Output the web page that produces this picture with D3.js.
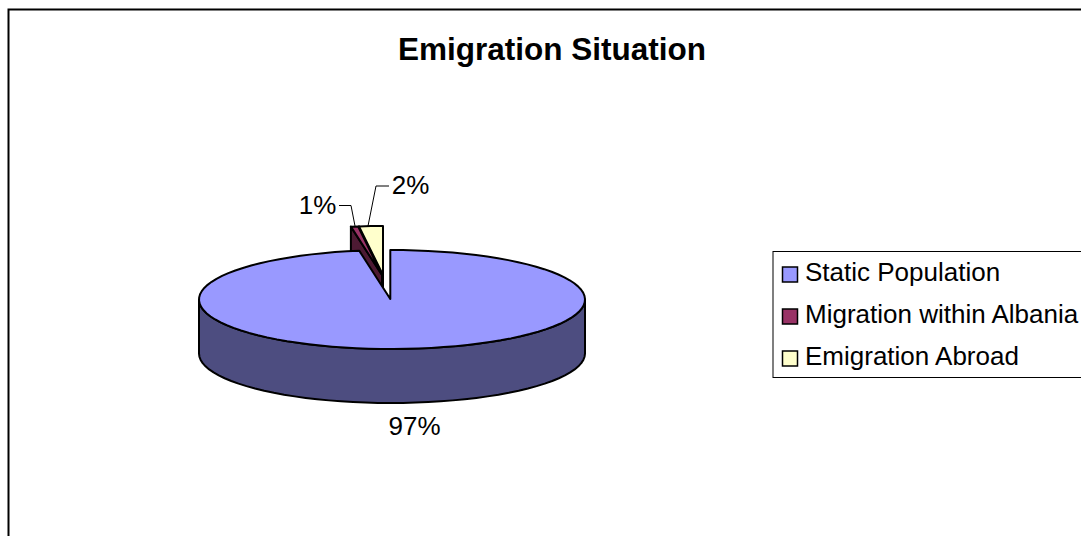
<!DOCTYPE html>
<html><head><meta charset="utf-8">
<script src="https://cdnjs.cloudflare.com/ajax/libs/d3/7.8.5/d3.min.js"></script>
<style>html,body{margin:0;padding:0;background:#fff;overflow:hidden}svg{display:block}text{font-family:"Liberation Sans",Arial,sans-serif;fill:#000}</style>
</head><body><svg id="c" width="1081" height="536"></svg>
<script>
const categories = ["Static Population", "Migration within Albania", "Emigration Abroad"];
const values = [97.4, 0.6, 2.0];
const topColors = ["#9999FF", "#993366", "#FFFFCC"];
const wallColors = ["#4D4D80", "#4D1A33", "#80806A"];
const chartTitle = "Emigration Situation";

const svg = d3.select("#c");
const W = 1081, H = 536;
const cx = 390.3, cy = 299.5, rxLeft = 191.3, rxRight = 194.7, ry = 49.5, depth = 54;
const apex = [390.3, 299];
const explode = [[0, 0], [-8.3, -24], [-7.3, -24]];

svg.append("rect").attr("x", 8.5).attr("y", 9.5).attr("width", W + 20).attr("height", H + 20)
  .attr("fill", "#fff").attr("stroke", "#000").attr("stroke-width", 2);

svg.append("text").attr("x", 552).attr("y", 60).attr("text-anchor", "middle")
  .attr("font-size", 31.5).attr("font-weight", "bold").text(chartTitle);

const pie = d3.pie().sort(null).value(d => d).startAngle(0).endAngle(2 * Math.PI);
const arcs = pie(values);
const rim = a => {
  const s = Math.sin(a);
  return [cx + (s >= 0 ? rxRight : rxLeft) * s, cy - ry * Math.cos(a)];
};
const line = d3.line();
const step = Math.PI / 48;
const sampled = (a0, a1) => {
  const n = Math.max(1, Math.round((a1 - a0) / step));
  return d3.range(n + 1).map(i => rim(a0 + (a1 - a0) * i / n));
};
const shift = (pts, dx, dy) => pts.map(p => [p[0] + dx, p[1] + dy]);
const stroke = g => g.attr("stroke", "#000").attr("stroke-width", 2).attr("stroke-linejoin", "round");

function slice(i) {
  const a = arcs[i], [dx, dy] = explode[i];
  const g = svg.append("g").attr("transform", `translate(${dx},${dy})`);
  if (i > 0) {
    const edge = [apex, rim(a.startAngle)];
    const face = [...edge, ...shift(edge, 0, depth).reverse()];
    g.append("path").attr("d", line(face) + "Z").attr("fill", wallColors[i]).call(stroke);
  }
  g.append("path").attr("d", line([apex, ...sampled(a.startAngle, a.endAngle)]) + "Z")
    .attr("fill", topColors[i]).call(stroke);
}

slice(2);
slice(1);

const front = sampled(Math.PI / 2, 3 * Math.PI / 2);
svg.append("path").attr("d", line([...front, ...shift(front, 0, depth).reverse()]) + "Z")
  .attr("fill", wallColors[0]).call(stroke);
slice(0);

const fmt = v => d3.format(".0f")(v) + "%";
const lab = (i, x, y) => svg.append("text").attr("x", x).attr("y", y)
  .attr("text-anchor", "middle").attr("font-size", 26).text(fmt(values[i]));
lab(0, 414.5, 435);
lab(1, 317.5, 214);
lab(2, 410.5, 194);
const leader = pts => svg.append("path").attr("d", line(pts)).attr("fill", "none").attr("stroke", "#000").attr("stroke-width", 1);
leader([[339, 205.5], [351, 205.5], [355, 226]]);
leader([[389, 186], [376, 186], [368, 226]]);

const lg = svg.append("g");
lg.append("rect").attr("x", 773).attr("y", 251.5).attr("width", 330).attr("height", 126)
  .attr("fill", "#fff").attr("stroke", "#000").attr("stroke-width", 1);
const ly = d3.scalePoint().domain(categories).range([273, 357]);
categories.forEach((c, i) => {
  lg.append("rect").attr("x", 782.5).attr("y", ly(c) - 6).attr("width", 15).attr("height", 15)
    .attr("fill", topColors[i]).attr("stroke", "#000").attr("stroke-width", 1.5);
  lg.append("text").attr("x", 805).attr("y", ly(c) + 8).attr("font-size", 26).text(c);
});
</script></body></html>
